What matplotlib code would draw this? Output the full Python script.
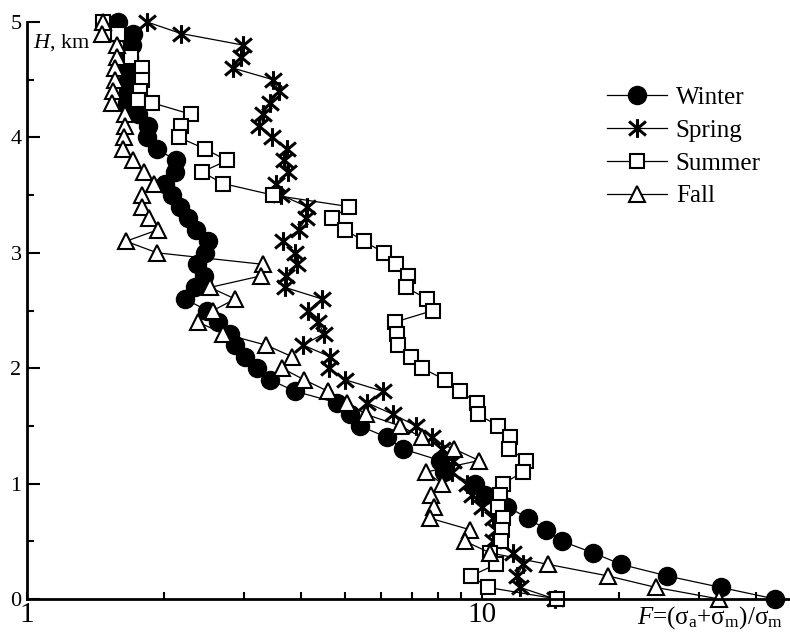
import matplotlib
matplotlib.use('Agg')
import matplotlib.pyplot as plt
from matplotlib.path import Path
from matplotlib.lines import Line2D
from matplotlib.ticker import FixedLocator, FixedFormatter, NullFormatter

plt.rcParams['font.family'] = ['Liberation Serif', 'DejaVu Serif']
plt.rcParams['mathtext.fontset'] = 'custom'
plt.rcParams['mathtext.rm'] = 'Liberation Serif'
plt.rcParams['mathtext.it'] = 'Liberation Serif:italic'

# ---------------- data ----------------
heights = [5.0, 4.9, 4.8, 4.7, 4.6, 4.5, 4.4, 4.3, 4.2, 4.1, 4.0, 3.9, 3.8, 3.7, 3.6,
           3.5, 3.4, 3.3, 3.2, 3.1, 3.0, 2.9, 2.8, 2.7, 2.6, 2.5, 2.4, 2.3, 2.2, 2.1,
           2.0, 1.9, 1.8, 1.7, 1.6, 1.5, 1.4, 1.3, 1.2, 1.1, 1.0, 0.9, 0.8, 0.7, 0.6,
           0.5, 0.4, 0.3, 0.2, 0.1, 0.0]

winter = [1.585, 1.710, 1.701, 1.675, 1.667, 1.667, 1.667, 1.659, 1.754, 1.845, 1.836,
          1.931, 2.126, 2.115, 2.011, 2.084, 2.169, 2.259, 2.352, 2.500, 2.462, 2.364,
          2.449, 2.340, 2.225, 2.487, 2.630, 2.794, 2.866, 3.014, 3.202, 3.420, 3.882,
          4.800, 5.127, 5.393, 6.182, 6.706, 8.085, 8.250, 9.652, 10.15, 11.35, 12.62,
          13.83, 14.99, 17.54, 20.21, 25.50, 33.51, 44.05]

spring = [1.836, 2.180, 2.984, 2.954, 2.837, 3.473, 3.580, 3.420, 3.302, 3.236, 3.455,
          3.728, 3.672, 3.747, 3.526, 3.616, 4.125, 4.104, 3.961, 3.654, 3.882, 3.922,
          3.709, 3.690, 4.451, 4.146, 4.361, 4.496, 4.043, 4.634, 4.610, 5.000, 6.059,
          5.588, 6.375, 7.161, 7.765, 8.167, 8.634, 8.590, 9.269, 9.506, 10.00, 10.57,
          10.73, 10.57, 11.70, 12.31, 11.94, 12.12, 14.47]

summer_heights = [5.0, 4.9, 4.7, 4.6, 4.5, 4.4, 4.32, 4.3, 4.2, 4.1, 4.0, 3.9, 3.8, 3.7,
                  3.6, 3.5, 3.4, 3.3, 3.2, 3.1, 3.0, 2.9, 2.8, 2.7, 2.6, 2.5, 2.4, 2.3,
                  2.2, 2.1, 2.0, 1.9, 1.8, 1.7, 1.6, 1.5, 1.4, 1.3, 1.2, 1.1, 1.0, 0.9,
                  0.8, 0.7, 0.6, 0.5, 0.4, 0.3, 0.2, 0.1, 0.0]
summer = [1.469, 1.585, 1.693, 1.789, 1.789, 1.771, 1.754, 1.883, 2.294, 2.180, 2.158,
          2.462, 2.752, 2.424, 2.697, 3.473, 5.101, 4.680, 5.000, 5.503, 6.090, 6.472,
          6.878, 6.808, 7.571, 7.805, 6.439, 6.505, 6.538, 6.983, 7.382, 8.292, 8.947,
          9.750, 9.800, 10.84, 11.53, 11.47, 12.50, 12.31, 11.12, 10.95, 10.84, 11.12,
          11.07, 11.01, 10.41, 10.73, 9.459, 10.31, 14.62]

fall = [1.469, 1.462, 1.577, 1.577, 1.561, 1.561, 1.546, 1.538, 1.642, 1.642, 1.634,
        1.625, 1.710, 1.807, 1.902, 1.789, 1.789, 1.854, 1.941, 1.650, 1.931, 3.302,
        3.268, 2.525, 2.866, 2.564, 2.376, 2.697, 3.352, 3.824, 3.635, 4.063, 4.587,
        5.050, 5.560, 6.603, 7.382, 8.678, 9.850, 7.533, 8.167, 7.726, 7.844, 7.687,
        9.411, 9.176, 10.41, 13.97, 18.92, 24.12, 33.18]

season_labels = ['Winter', 'Spring', 'Summer', 'Fall']
x_major_ticks = [1, 10]
x_major_labels = ['1', '10']
x_minor_ticks = [2, 3, 4, 5, 6, 7, 8, 9, 20, 30, 40]
y_major_ticks = [0, 1, 2, 3, 4, 5]
y_minor_ticks = [0.5, 1.5, 2.5, 3.5, 4.5]

# ---------------- styles ----------------
ast = Path([(0, -1), (0, 1), (-0.9, -0.75), (0.9, 0.75), (-0.9, 0.75), (0.9, -0.75)],
           [Path.MOVETO, Path.LINETO, Path.MOVETO, Path.LINETO, Path.MOVETO, Path.LINETO])

styles = {
    'Winter': dict(marker='o', markersize=13, markerfacecolor='black',
                   markeredgecolor='black', markeredgewidth=1),
    'Spring': dict(marker=ast, markersize=13.5, markerfacecolor='none',
                   markeredgecolor='black', markeredgewidth=2.2),
    'Summer': dict(marker='s', markersize=10, markerfacecolor='white',
                   markeredgecolor='black', markeredgewidth=1.5),
    'Fall': dict(marker='^', markersize=12, markerfacecolor='white',
                 markeredgecolor='black', markeredgewidth=1.5),
}

W, Hh = 790, 633
fig = plt.figure(figsize=(W / 100, Hh / 100), dpi=100)
ax = fig.add_axes([27 / W, (Hh - 599) / Hh, 1 - 27 / W, (599 - 22) / Hh])

series = [(heights, winter), (heights, spring), (summer_heights, summer), (heights, fall)]
for lab, (hh, xx) in zip(season_labels, series):
    ax.plot(xx, hh, color='black', linewidth=0.9, clip_on=False, **styles[lab])

ax.set_xscale('log')
ax.set_xlim(1, 47.5)
ax.set_ylim(0, 5)

ax.xaxis.set_major_locator(FixedLocator(x_major_ticks))
ax.xaxis.set_major_formatter(FixedFormatter(x_major_labels))
ax.xaxis.set_minor_locator(FixedLocator(x_minor_ticks))
ax.xaxis.set_minor_formatter(NullFormatter())
ax.yaxis.set_major_locator(FixedLocator(y_major_ticks))
ax.yaxis.set_minor_locator(FixedLocator(y_minor_ticks))

ax.tick_params(axis='x', which='both', direction='in', length=5, width=1.5,
               labelsize=21, pad=2)
ax.tick_params(axis='y', which='major', direction='in', length=9.5, width=1.5,
               labelsize=16, pad=4)
ax.tick_params(axis='y', which='minor', direction='in', length=5, width=1.5)

for s in ['top', 'right']:
    ax.spines[s].set_visible(False)
for s in ['left', 'bottom']:
    ax.spines[s].set_linewidth(2)

fig.text(33 / W, 1 - 43 / Hh, r'$\mathit{H}$, km', fontsize=16, va='center', ha='left')
fig.text(637 / W, 1 - 624 / Hh,
         r'$\mathit{F}$=(σ$_{\mathrm{a}}$+σ$_{\mathrm{m}}$)/σ$_{\mathrm{m}}$',
         fontsize=18, va='baseline', ha='left')

handles = [Line2D([], [], color='black', linewidth=0.9, **styles[l]) for l in season_labels]
ax.legend(handles, season_labels, loc='upper left',
          bbox_to_anchor=(607 / W, 1 - 86 / Hh), bbox_transform=fig.transFigure,
          frameon=False, fontsize=18, handlelength=2.4, handletextpad=0.35,
          labelspacing=0.42, borderpad=0, borderaxespad=0)

fig.savefig('out.png', dpi=100)
